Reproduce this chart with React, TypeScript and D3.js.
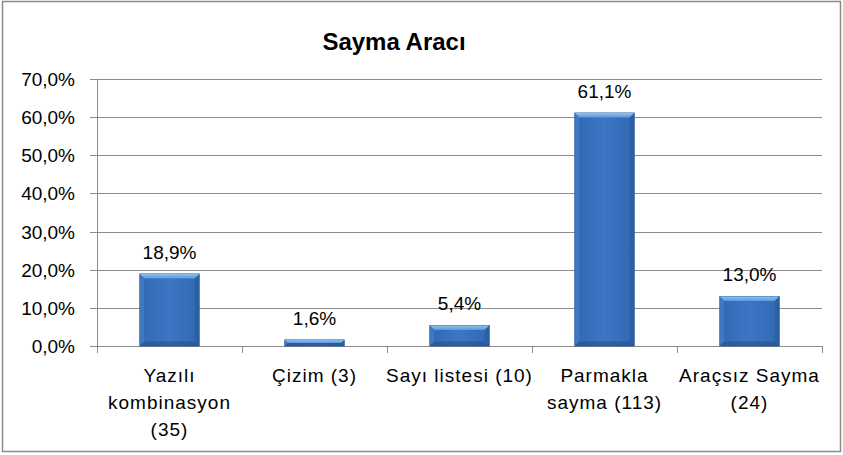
import React from "react";
import * as d3 from "d3";

const categories: string[][] = [
  ["Yazılı", "kombinasyon", "(35)"],
  ["Çizim (3)"],
  ["Sayı listesi (10)"],
  ["Parmakla", "sayma (113)"],
  ["Araçsız Sayma", "(24)"],
];
const values: number[] = [18.9, 1.6, 5.4, 61.1, 13.0];
const valueLabels: string[] = ["18,9%", "1,6%", "5,4%", "61,1%", "13,0%"];
const yTicks: number[] = [0, 10, 20, 30, 40, 50, 60, 70];
const title = "Sayma Aracı";

export default function App() {
  const W = 843, H = 455;
  const left = 97, right = 822, top = 79, bottom = 346;
  const x = d3.scaleBand<number>().domain(d3.range(values.length)).range([left, right]).paddingInner(0.59).paddingOuter(0.295);
  const band = d3.scaleBand<number>().domain(d3.range(values.length)).range([left, right]);
  const y = d3.scaleLinear().domain([0, 70]).range([bottom, top]);
  const font = "Liberation Sans, Arial, sans-serif";
  const fs = (size: number, bold = false, ls = 0): React.CSSProperties => ({ fontFamily: font, fontSize: size, fontWeight: bold ? 700 : 400, letterSpacing: ls });
  const fmt = (v: number) => d3.format(".1f")(v).replace(".", ",") + "%";
  return (
    <div style={{ position: "absolute", left: 0, top: 0 }}>
      <svg width={W} height={H} style={{ display: "block" }}>
        <defs>
          <linearGradient id="barMain" x1="0" y1="0" x2="1" y2="0">
            <stop offset="0" stopColor="#3068b2" />
            <stop offset="0.5" stopColor="#3c76c4" />
            <stop offset="1" stopColor="#3068b2" />
          </linearGradient>
          <linearGradient id="barTop" x1="0" y1="0" x2="0" y2="1">
            <stop offset="0" stopColor="#8ec2ef" />
            <stop offset="1" stopColor="#5f98da" />
          </linearGradient>
        </defs>
        <rect x={0} y={0} width={W} height={H} fill="#fff" />
        <rect x={2.5} y={1.5} width={838} height={450} fill="#fff" stroke="#8a8a8a" strokeWidth={1.5} />
        <text x={394} y={50} textAnchor="middle" style={fs(24, true)} fill="#000">{title}</text>
        {yTicks.map((t) => (
          <g key={t}>
            <line x1={left - 7} x2={right} y1={Math.round(y(t)) + 0.5} y2={Math.round(y(t)) + 0.5} stroke="#8c8c8c" strokeWidth={1} />
            <text x={75} y={y(t) + 7} textAnchor="end" style={fs(19)} fill="#000">{fmt(t)}</text>
          </g>
        ))}
        <line x1={left + 0.5} x2={left + 0.5} y1={top} y2={bottom} stroke="#8c8c8c" />
        {d3.range(values.length + 1).map((i) => {
          const xx = i < values.length ? band(i)! : right;
          return <line key={i} x1={Math.round(xx) + 0.5} x2={Math.round(xx) + 0.5} y1={bottom} y2={bottom + 7} stroke="#8c8c8c" />;
        })}
        {values.map((v, i) => {
          const bx = x(i)!, bw = x.bandwidth();
          const by = y(v), bh = bottom - by;
          const bev = Math.min(4.5, bh / 2);
          return (
            <g key={i}>
              <rect x={bx} y={by} width={bw} height={bh} fill="url(#barMain)" stroke="#2a5a9c" strokeWidth={0.8} />
              <polygon points={`${bx},${by} ${bx + bw},${by} ${bx + bw - bev},${by + bev} ${bx + bev},${by + bev}`} fill="url(#barTop)" />
              <polygon points={`${bx},${by} ${bx + bev},${by + bev} ${bx + bev},${bottom - bev} ${bx},${bottom}`} fill="#4a82c8" opacity={0.6} />
              <polygon points={`${bx + bw},${by} ${bx + bw - bev},${by + bev} ${bx + bw - bev},${bottom - bev} ${bx + bw},${bottom}`} fill="#2a5898" opacity={0.6} />
              <polygon points={`${bx},${bottom} ${bx + bev},${bottom - bev} ${bx + bw - bev},${bottom - bev} ${bx + bw},${bottom}`} fill="#24508c" opacity={0.6} />
              <text x={bx + bw / 2} y={by - 15} textAnchor="middle" style={fs(19)} fill="#000">{valueLabels[i]}</text>
            </g>
          );
        })}
        {categories.map((lines, i) => (
          <text key={i} textAnchor="middle" style={fs(19, false, 1)} fill="#000">
            {lines.map((l, j) => (
              <tspan key={j} x={band(i)! + band.bandwidth() / 2} y={382 + j * 27}>{l}</tspan>
            ))}
          </text>
        ))}
      </svg>
    </div>
  );
}
